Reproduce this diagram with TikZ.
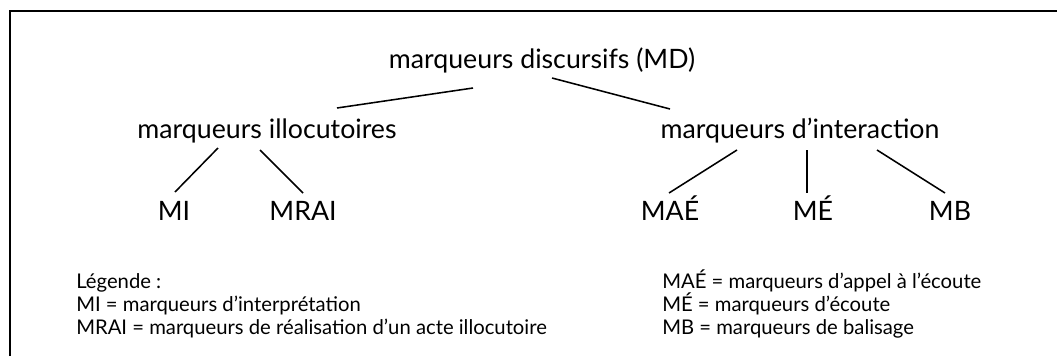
\documentclass[tikz,border=0pt]{standalone}
\usepackage{fontspec}
\setmainfont{Lato}
\usetikzlibrary{calc}

\begin{document}
\begin{tikzpicture}[x=0.025cm, y=-0.025cm,
    mk/.style={anchor=base, inner sep=0pt, font=\fontsize{19}{22}\selectfont},
    leg/.style={anchor=base west, inner sep=0pt, font=\fontsize{14.4}{17}\selectfont},
    br/.style={line width=1.1pt}]
  \useasboundingbox (0,0) rectangle (1057,356);
  % frame (only top and left edges show)
  \draw[line width=1pt] (10,356) -- (10,11) -- (1057,11);
  % tree
  \node[mk] (md) at (542,68) {marqueurs discursifs (MD)};
  \node[mk] (ill) at (267,138) {marqueurs illocutoires};
  \node[mk] (int) at (800,138) {marqueurs d’interaction};
  \node[mk] (mi) at (174,220) {MI};
  \node[mk] (mrai) at (303,220) {MRAI};
  \node[mk] (mae) at (670,220) {MAÉ};
  \node[mk] (me) at (813,220) {MÉ};
  \node[mk] (mb) at (950,220) {MB};
  % Draw the branches
  \draw[br] ($(md.base)+(-69,20)$) -- ($(ill.base)+(70,-30)$);
  \draw[br] ($(md.base)+(10,10)$) -- ($(int.base)+(-130,-29)$);
  \draw[br] ($(ill.base)+(-49,10)$) -- ($(mi.base)+(1,-28)$);
  \draw[br] ($(ill.base)+(-7,12)$) -- ($(mrai.base)+(0,-27)$);
  \draw[br] ($(int.base)+(-63,12)$) -- ($(mae.base)+(-1,-27)$);
  \draw[br] ($(int.base)+(7,12)$) -- ($(me.base)+(-6,-27)$);
  \draw[br] ($(int.base)+(77,12)$) -- ($(mb.base)+(-5,-27)$);
  % legend
  \node[leg] (l0) at (76,288) {Légende :};
  \node[leg] (l1) at (76,311) {MI = marqueurs d’interprétation};
  \node[leg] (l2) at (76,334) {MRAI = marqueurs de réalisation d’un acte illocutoire};
  \node[leg] (r1) at (662,288) {MAÉ = marqueurs d’appel à l’écoute};
  \node[leg] (r2) at (662,311) {MÉ = marqueurs d’écoute};
  \node[leg] (r3) at (662,334) {MB = marqueurs de balisage};
\end{tikzpicture}
\end{document}
